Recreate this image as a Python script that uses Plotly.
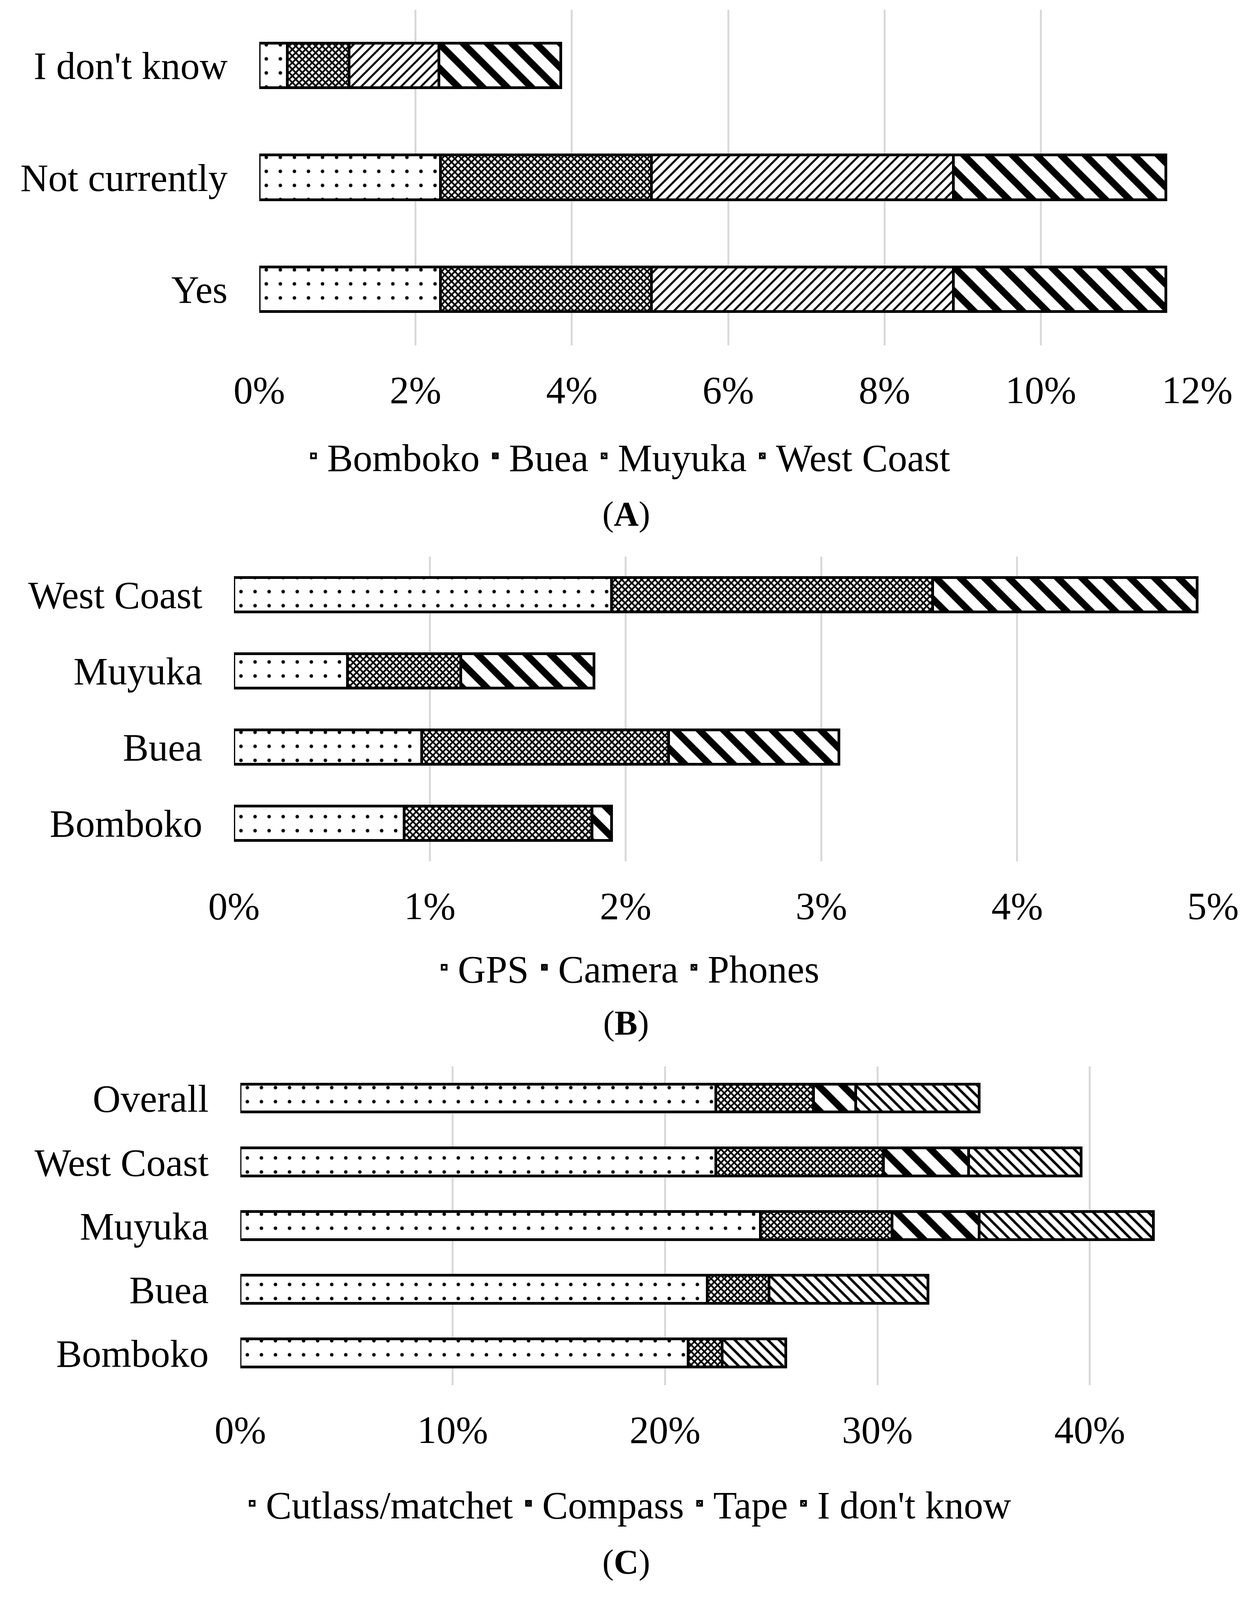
import plotly.graph_objects as go

# ---- data (percent of respondents) ----
# (A) by answer, stacked by site
a_cats = ["Yes", "Not currently", "I don't know"]
a_names = ["Bomboko", "Buea", "Muyuka", "West Coast"]
a_bomboko = [2.32, 2.32, 0.36]
a_buea = [2.70, 2.70, 0.79]
a_muyuka = [3.86, 3.86, 1.15]
a_westcoast = [2.72, 2.72, 1.56]

# (B) by site, stacked by device
b_cats = ["Bomboko", "Buea", "Muyuka", "West Coast"]
b_names = ["GPS", "Camera", "Phones"]
b_gps = [0.87, 0.96, 0.58, 1.93]
b_camera = [0.96, 1.26, 0.58, 1.64]
b_phones = [0.10, 0.87, 0.68, 1.35]

# (C) by site, stacked by tool
c_cats = ["Bomboko", "Buea", "Muyuka", "West Coast", "Overall"]
c_names = ["Cutlass/matchet", "Compass", "Tape", "I don't know"]
c_cutlass = [21.1, 22.0, 24.5, 22.4, 22.4]
c_compass = [1.6, 2.9, 6.2, 7.9, 4.6]
c_tape = [0.0, 0.0, 4.1, 4.0, 2.0]
c_idk = [3.0, 7.5, 8.2, 5.3, 5.8]

FONT = "Liberation Serif"
FS = 99

dots = dict(shape=".", size=36, solidity=0.05)
dense = dict(shape="x", size=12, solidity=0.6)
fine_fwd = dict(shape="/", size=18, solidity=0.28)
bold_back = dict(shape="\\", size=44, solidity=0.4)
fine_back = dict(shape="\\", size=20, solidity=0.32)

fig = go.Figure()


def add_panel(cats, names, series, patterns, xa, ya, leg, width):
    for name, vals, pat in zip(names, series, patterns):
        fig.add_trace(go.Bar(
            y=cats, x=vals, name=name, orientation="h",
            xaxis=xa, yaxis=ya, legend=leg, width=width,
            marker=dict(color="white",
                        line=dict(color="black", width=7),
                        pattern=dict(fgcolor="black", bgcolor="white",
                                     fgopacity=1, **pat)),
        ))


add_panel(a_cats, a_names, [a_bomboko, a_buea, a_muyuka, a_westcoast],
          [dots, dense, fine_fwd, bold_back], "x", "y", "legend", 0.4)
add_panel(b_cats, b_names, [b_gps, b_camera, b_phones],
          [dots, dense, bold_back], "x2", "y2", "legend2", 0.45)
add_panel(c_cats, c_names, [c_cutlass, c_compass, c_tape, c_idk],
          [dots, dense, bold_back, fine_back], "x3", "y3", "legend3", 0.44)

tickfont = dict(family=FONT, size=FS, color="black")


def xaxis(domain, rng, dtick, anchor):
    return dict(domain=domain, anchor=anchor, range=rng, dtick=dtick, tick0=0,
                ticksuffix="%", showgrid=True, gridcolor="#d9d9d9", gridwidth=5,
                zeroline=False, showline=False, ticks="", automargin=False,
                ticklabelstandoff=48, tickfont=tickfont, fixedrange=True)


def yaxis(domain, cats, anchor):
    return dict(domain=domain, anchor=anchor, categoryorder="array",
                categoryarray=cats, range=[-0.5, len(cats) - 0.5],
                showgrid=False, zeroline=False, showline=False, ticks="",
                automargin=False, ticklabelstandoff=80, tickfont=tickfont)


def legend(y):
    return dict(orientation="h", x=0.5, xanchor="center", y=y, yanchor="middle",
                traceorder="normal",
                font=dict(family=FONT, size=FS, color="black"),
                bgcolor="rgba(0,0,0,0)", itemwidth=60)


def caption(letter, y):
    return dict(text="(<b>%s</b>)" % letter, x=0.5, y=y, xref="paper",
                yref="paper", xanchor="center", yanchor="middle",
                showarrow=False, font=dict(family=FONT, size=88, color="black"))


# sized to fit the visible page area (body margin included)
fig.update_layout(
    width=3189, height=4060,
    margin=dict(l=0, r=0, t=0, b=0, autoexpand=False),
    paper_bgcolor="white", plot_bgcolor="white",
    barmode="stack", bargap=0,
    xaxis=xaxis([0.2056, 0.9585], [0, 12], 2, "y"),
    yaxis=yaxis([0.7843, 0.9959], a_cats, "x"),
    xaxis2=xaxis([0.1853, 0.9712], [0, 5], 1, "y2"),
    yaxis2=yaxis([0.4588, 0.6511], b_cats, "x2"),
    xaxis3=xaxis([0.1904, 0.9575], [0, 45], 10, "y3"),
    yaxis3=yaxis([0.1286, 0.3295], c_cats, "x3"),
    legend=legend(0.7145),
    legend2=legend(0.392),
    legend3=legend(0.054),
    annotations=[caption("A", 0.678), caption("B", 0.357), caption("C", 0.0172)],
)

fig.write_html("out.html")
